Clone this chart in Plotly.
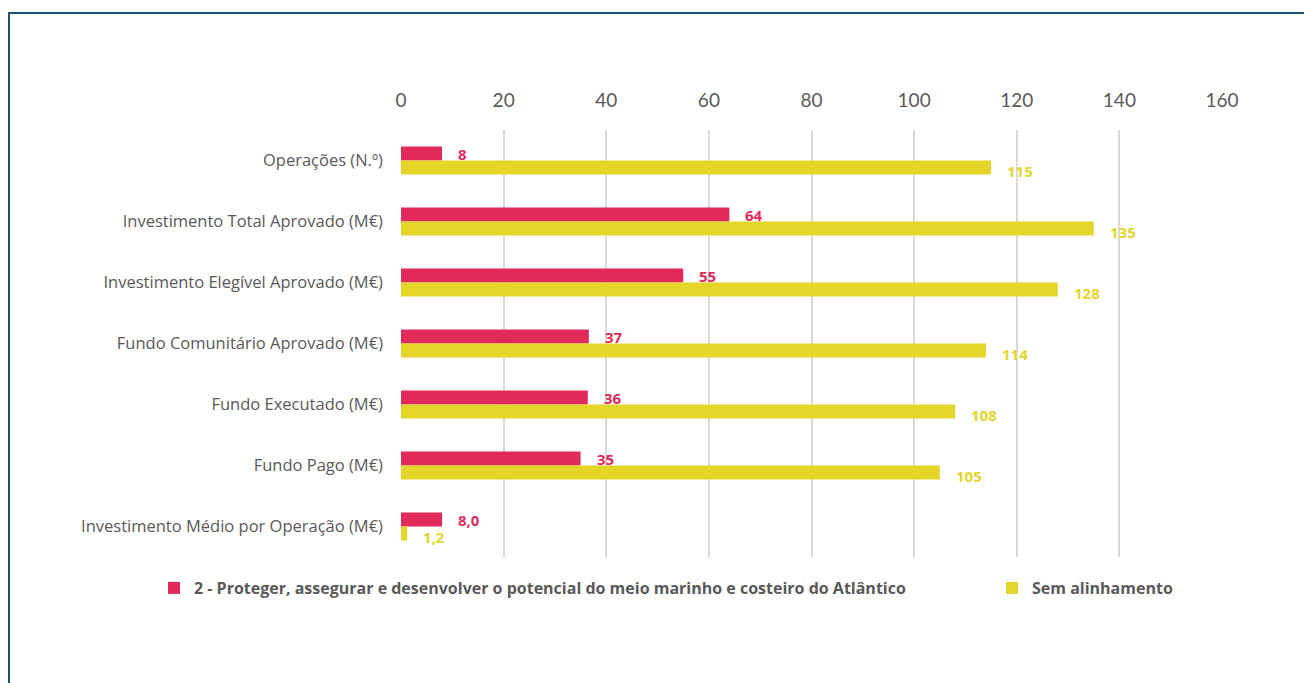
import plotly.graph_objects as go

categories = [
    "Operações (N.º)",
    "Investimento Total Aprovado (M€)",
    "Investimento Elegível Aprovado (M€)",
    "Fundo Comunitário Aprovado (M€)",
    "Fundo Executado (M€)",
    "Fundo Pago (M€)",
    "Investimento Médio por Operação (M€)",
]
series_a_name = "2 - Proteger, assegurar e desenvolver o potencial do meio marinho e costeiro do Atlântico"
series_a = [8, 64, 55, 36.6, 36.4, 35, 8.0]
series_a_labels = ["8", "64", "55", "37", "36", "35", "8,0"]
series_b_name = "Sem alinhamento"
series_b = [115, 135, 128, 114, 108, 105, 1.2]
series_b_labels = ["115", "135", "128", "114", "108", "105", "1,2"]
tick_vals = [0, 20, 40, 60, 80, 100, 120, 140, 160]

RED = "#E22A5A"
YEL = "#E3D629"
GRAY = "#595959"
FONT = "Open Sans"

W, H = 1312, 683
ML, MT, PW, PH = 393, 122, 821, 427

fig = go.Figure()
fig.add_trace(go.Bar(y=categories, x=series_a, orientation="h", name=f"<b>{series_a_name}</b>",
                     marker=dict(color=RED, line=dict(width=0)), legend="legend"))
fig.add_trace(go.Bar(y=categories, x=series_b, orientation="h", name=f"<b>{series_b_name}</b>",
                     marker=dict(color=YEL, line=dict(width=0)), legend="legend2"))

half = 0.46 / 4
annotations = []
for i, (va, la, vb, lb) in enumerate(zip(series_a, series_a_labels, series_b, series_b_labels)):
    annotations.append(dict(x=va, y=i - half, xref="x", yref="y", text=f"<b>{la}</b>", showarrow=False,
                            xanchor="left", xshift=14, yshift=-1, font=dict(family=FONT, size=15, color=RED)))
    annotations.append(dict(x=vb, y=i + half, xref="x", yref="y", text=f"<b>{lb}</b>", showarrow=False,
                            xanchor="left", xshift=14, yshift=-3, font=dict(family=FONT, size=15, color=YEL)))

legend_common = dict(orientation="h", xref="container", xanchor="left",
                     yref="container", y=1 - 563 / H, yanchor="top",
                     font=dict(family=FONT, size=16, color=GRAY), itemwidth=30,
                     bgcolor="rgba(0,0,0,0)")

fig.update_layout(
    width=W, height=H,
    margin=dict(l=ML, r=W - ML - PW, t=MT, b=H - MT - PH, autoexpand=False),
    paper_bgcolor="white", plot_bgcolor="white",
    barmode="group", bargap=0.54, bargroupgap=0,
    font=dict(family=FONT, color=GRAY),
    showlegend=True,
    legend=dict(x=146 / W, **legend_common),
    legend2=dict(x=984 / W, **legend_common),
    xaxis=dict(side="top", range=[0, 160], tickvals=tick_vals, showgrid=True, gridcolor="#D9D9D9",
               gridwidth=1.5, zeroline=False, showline=False, ticks="",
               tickfont=dict(family="Lato", size=19, color=GRAY), ticklabelstandoff=18),
    yaxis=dict(autorange="reversed", showgrid=False, zeroline=False, showline=False, ticks="",
               tickfont=dict(family=FONT, size=16.5, color=GRAY), ticklabelstandoff=17),
    annotations=annotations,
    shapes=[dict(type="rect", xref="paper", yref="paper",
                 x0=(1 - ML) / PW, x1=(W + 20 - ML) / PW,
                 y0=(MT + PH - 5) / PH, y1=(MT + PH - H - 20) / PH,
                 line=dict(color="#1F4E79", width=2), fillcolor="rgba(0,0,0,0)", layer="below")],
)

fig.write_html("out.html")
